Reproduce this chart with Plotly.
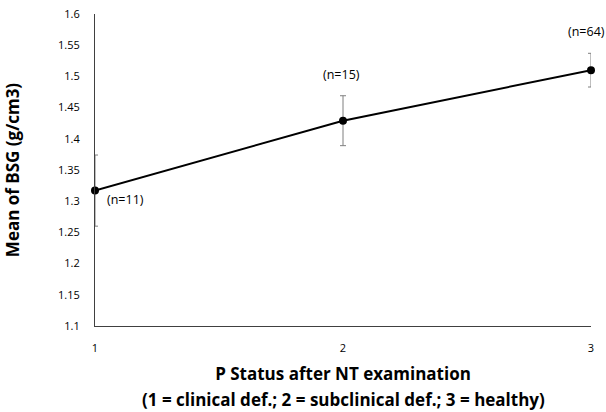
import plotly.graph_objects as go

status = [1, 2, 3]
bsg_mean = [1.317, 1.429, 1.510]
bsg_err = [0.057, 0.040, 0.027]
n_labels = ['(n=11)', '(n=15)', '(n=64)']

FONT = 'Open Sans'

fig = go.Figure()
fig.add_trace(go.Scatter(
    x=status, y=bsg_mean, mode='lines+markers',
    line=dict(color='black', width=2),
    marker=dict(color='black', size=8),
    error_y=dict(type='data', array=bsg_err, visible=True,
                 color='#7f7f7f', thickness=1, width=3),
    cliponaxis=False, showlegend=False))

# n labels: first one sits beside the point, the others above the error bar
fig.add_annotation(x=status[0], y=bsg_mean[0], text=n_labels[0],
                   showarrow=False, xanchor='left', yanchor='middle',
                   xshift=10, yshift=-9, font=dict(size=12.5, color='black'))
for i in (1, 2):
    fig.add_annotation(x=status[i], y=bsg_mean[i] + bsg_err[i], text=n_labels[i],
                       showarrow=False, xanchor='center', yanchor='bottom',
                       xshift=-5 if i == 2 else -2, yshift=11,
                       font=dict(size=12.5, color='black'))

# second line of the x title, set apart a bit more than plotly's line spacing
fig.add_annotation(x=0.5, y=0, xref='paper', yref='paper',
                   text='<b>(1 = clinical def.; 2 = subclinical def.; 3 = healthy)</b>',
                   showarrow=False, xanchor='center', yanchor='middle', yshift=-73,
                   font=dict(size=17, color='black'))

fig.update_layout(
    width=606, height=412,
    margin=dict(l=95, r=15, t=14, b=86, autoexpand=False),
    plot_bgcolor='white', paper_bgcolor='white',
    font=dict(family=FONT, color='black'),
    xaxis=dict(range=[1, 3], tickvals=status, showgrid=False, zeroline=False,
               showline=True, linecolor='#404040', linewidth=1, automargin=False,
               ticks='', ticklabelstandoff=12, tickfont=dict(size=11),
               title=dict(text='<b>P Status after NT examination</b>',
                          font=dict(size=17), standoff=13)),
    yaxis=dict(range=[1.1, 1.6], dtick=0.05, showgrid=False, zeroline=False,
               showline=True, linecolor='#404040', linewidth=1, automargin=False,
               ticks='', ticklabelstandoff=12, tickfont=dict(size=11),
               tickformat='~g', ticklabeloverflow='allow',
               title=dict(text='<b>Mean of BSG (g/cm3)</b>', font=dict(size=17),
                          standoff=34)),
)

# drop the page's default body margin so the figure fills the window
fig.write_html('out.html', config={'displayModeBar': False},
               post_script="document.body.style.margin='0px';")
